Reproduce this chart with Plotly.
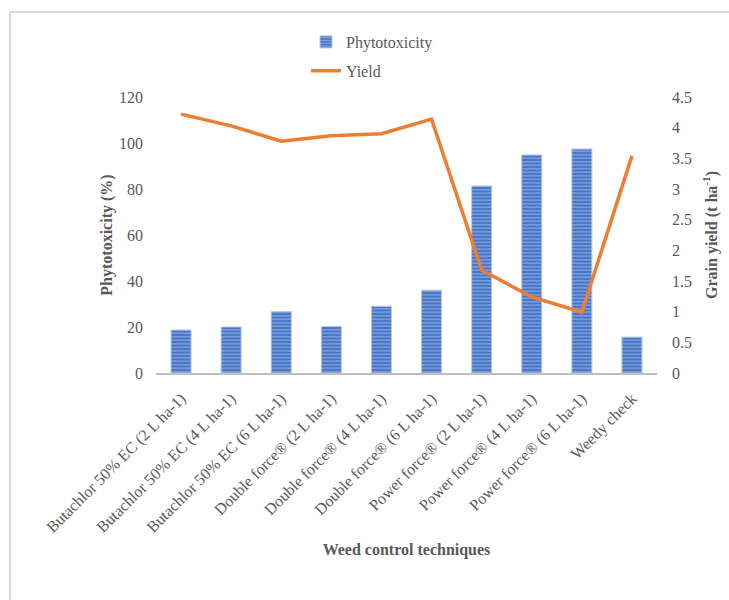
import plotly.graph_objects as go

categories = [
    "Butachlor 50% EC (2 L ha-1)",
    "Butachlor 50% EC (4 L ha-1)",
    "Butachlor 50% EC (6 L ha-1)",
    "Double force® (2 L ha-1)",
    "Double force® (4 L ha-1)",
    "Double force® (6 L ha-1)",
    "Power force® (2 L ha-1)",
    "Power force® (4 L ha-1)",
    "Power force® (6 L ha-1)",
    "Weedy check",
]
phytotoxicity = [18.7, 20.0, 26.7, 20.2, 29.0, 36.0, 81.3, 94.8, 97.4, 15.6]
grain_yield = [4.22, 4.03, 3.78, 3.87, 3.90, 4.14, 1.68, 1.24, 0.99, 3.54]

left_ticks = [0, 20, 40, 60, 80, 100, 120]
right_ticks = [0, 0.5, 1, 1.5, 2, 2.5, 3, 3.5, 4, 4.5]
right_ticktext = ["0", "0.5", "1", "1.5", "2", "2.5", "3", "3.5", "4", "4.5"]

FONT = "Liberation Serif"
GRAY = "#595959"
FS = 16

fig = go.Figure()
fig.add_trace(go.Bar(
    x=categories, y=phytotoxicity, name="Phytotoxicity",
    width=0.4, legendgroup="a",
    marker=dict(
        color="#4472C4",
        line=dict(color="#B4C7E7", width=1),
        pattern=dict(shape="-", fgcolor="#BFD0EE", bgcolor="#4775C8",
                     size=3.5, solidity=0.4),
    ),
))
fig.add_trace(go.Scatter(
    x=categories, y=grain_yield, name="Yield", yaxis="y2",
    mode="lines", legendgroup="b",
    line=dict(color="#ED7D31", width=3.5),
))

W, H = 729, 600
L, R, T, B = 156, 657, 97, 373
pw, ph = R - L, B - T

def px(x):
    return (x - L) / pw

def py(y):
    return (B - y) / ph

shapes = [
    dict(type="line", xref="paper", yref="paper", x0=px(10), x1=px(10),
         y0=py(12), y1=py(600), line=dict(color="#D9D9D9", width=2)),
    dict(type="line", xref="paper", yref="paper", x0=px(10), x1=px(729),
         y0=py(12), y1=py(12), line=dict(color="#D9D9D9", width=2)),
]

fig.update_layout(
    width=W, height=H,
    margin=dict(l=L, r=W - R, t=T, b=H - B, pad=0),
    paper_bgcolor="white", plot_bgcolor="white",
    font=dict(family=FONT, size=FS, color=GRAY),
    showlegend=True,
    legend=dict(x=px(306), y=py(25), xanchor="left", yanchor="top",
                orientation="v", tracegroupgap=5,
                font=dict(family=FONT, size=FS, color=GRAY),
                bgcolor="rgba(0,0,0,0)"),
    xaxis=dict(
        type="category", tickangle=-45, showgrid=False,
        showline=True, linecolor="#BFBFBF", linewidth=2,
        ticks="", ticklabelstandoff=8,
        tickfont=dict(family=FONT, size=FS, color=GRAY),
        title=dict(text="<b>Weed control techniques</b>",
                   font=dict(family=FONT, size=FS, color=GRAY), standoff=8),
    ),
    yaxis=dict(
        range=[0, 120], tickvals=left_ticks, showgrid=False, zeroline=False,
        showline=False, ticks="", ticklabelstandoff=12,
        tickfont=dict(family=FONT, size=FS, color=GRAY),
        title=dict(text="<b>Phytotoxicity (%)</b>",
                   font=dict(family=FONT, size=FS, color=GRAY), standoff=2),
    ),
    yaxis2=dict(
        range=[0, 4.5], tickvals=right_ticks, ticktext=right_ticktext,
        overlaying="y", side="right", showgrid=False, zeroline=False,
        showline=False, ticks="", ticklabelstandoff=14,
        tickfont=dict(family=FONT, size=FS, color=GRAY),
        title=dict(text="<b>Grain yield (t ha<sup>-1</sup>)</b>",
                   font=dict(family=FONT, size=FS, color=GRAY), standoff=14),
    ),
    shapes=shapes,
)

fig.write_html("out.html")
